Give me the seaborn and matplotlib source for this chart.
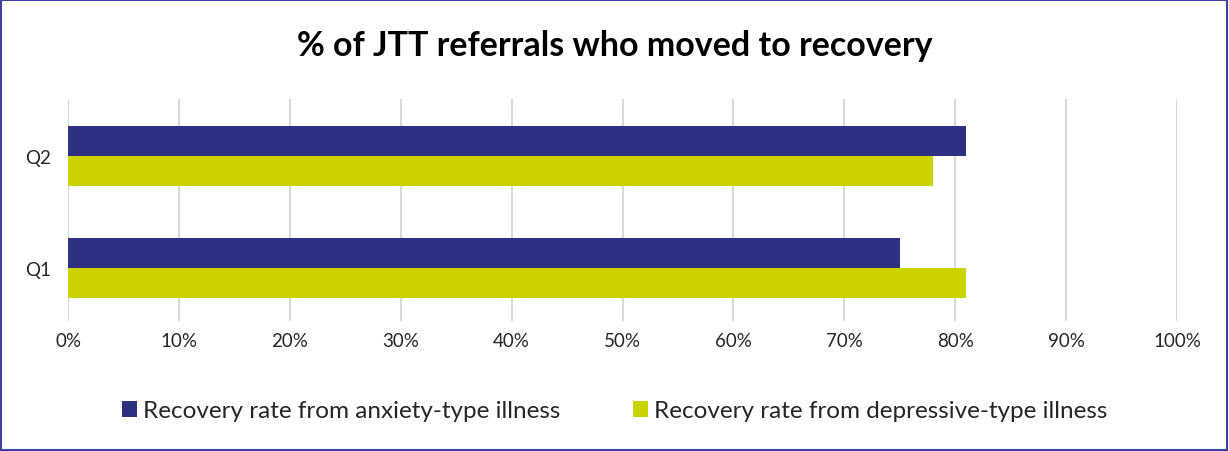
import pandas as pd
import seaborn as sns
import matplotlib.pyplot as plt
from matplotlib.patches import Rectangle
from matplotlib.ticker import PercentFormatter

# datos
cuartos = ["Q2", "Q1"]
ansiedad = [81, 75]
depresion = [78, 81]
serie_ans = "Recovery rate from anxiety-type illness"
serie_dep = "Recovery rate from depressive-type illness"
ticks_x = list(range(0, 101, 10))

datos = pd.DataFrame({
    "cuarto": cuartos * 2,
    "valor": ansiedad + depresion,
    "serie": [serie_ans] * len(cuartos) + [serie_dep] * len(cuartos),
})

sns.set_theme(style="white")
plt.rcParams["font.family"] = ["Lato", "DejaVu Sans"]

fig = plt.figure(figsize=(12.29, 4.52), dpi=100)
ax = fig.add_axes([68 / 1229, 1 - 322 / 452, (1177 - 68) / 1229, 222 / 452])

sns.barplot(data=datos, y="cuarto", x="valor", hue="serie", order=cuartos,
            palette=["#2E3082", "#CCD400"], width=0.535, orient="h",
            saturation=1, linewidth=0, ax=ax)

ax.set_xlim(0, 100)
ax.set_ylim(1.47, -0.51)
ax.set_xticks(ticks_x)
ax.xaxis.set_major_formatter(PercentFormatter(decimals=0))
ax.grid(axis="x", color="#D9D9D9", linewidth=1.5)
ax.set_axisbelow(True)
for s in ax.spines.values():
    s.set_visible(False)
ax.tick_params(axis="both", length=0, labelsize=13.5, colors="#262626", pad=8)
ax.tick_params(axis="y", pad=12)
ax.set_xlabel("")
ax.set_ylabel("")

ax.legend_.remove()
h, l = ax.get_legend_handles_labels()
fig.legend(h, l, loc="center", bbox_to_anchor=(0.5, 1 - 412 / 452), ncol=2,
           frameon=False, fontsize=17.5, handlelength=0.6, handleheight=0.6,
           handletextpad=0.25, columnspacing=3.0, labelcolor="#262626")

fig.text(0.5, 1 - 46 / 452, "% of JTT referrals who moved to recovery",
         ha="center", va="center", fontsize=24.5, fontweight="bold", color="black")

fig.patches.append(Rectangle((0.001, 0.002), 0.997, 0.995, transform=fig.transFigure,
                             fill=False, edgecolor="#3F3F9F", linewidth=1.5))

fig.savefig("out.png", dpi=100)
